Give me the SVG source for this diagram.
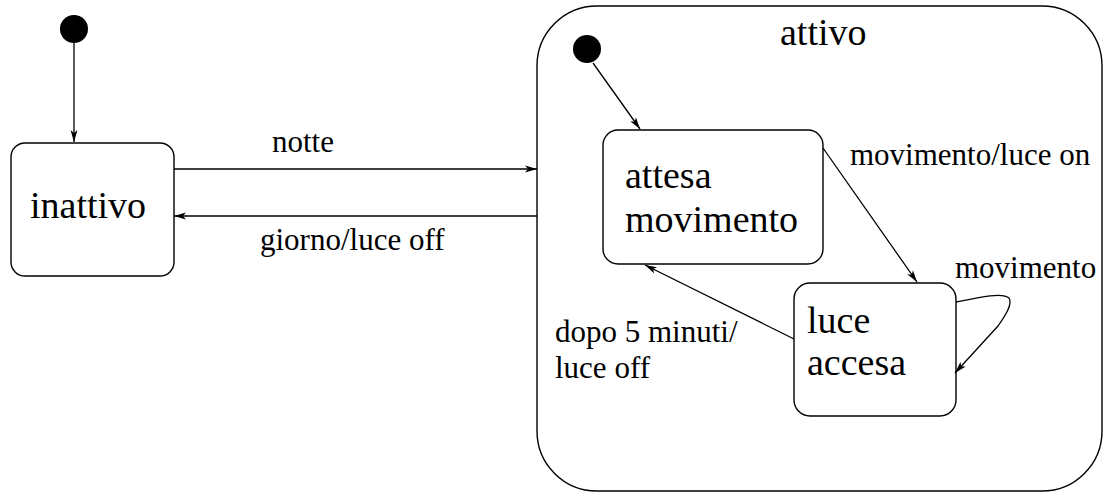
<svg xmlns="http://www.w3.org/2000/svg" width="1104" height="493" viewBox="0 0 1104 493">
<style>
.box{fill:#fff;stroke:#000;stroke-width:1.4}
.dot{fill:#000}
.ln{fill:none;stroke:#000;stroke-width:1.3;marker-end:url(#ah)}
.nl{font-size:38px;fill:#000}
.tl{font-size:31px;fill:#000}
</style>
<defs>
<marker id="ah" viewBox="0 0 12 8" refX="12" refY="4" markerWidth="12" markerHeight="8" markerUnits="userSpaceOnUse" orient="auto">
<path d="M0,0.5 L12,4 L0,7.5 L3,4 Z" fill="#000"/>
</marker>
</defs>
<g font-family="Liberation Serif, Times New Roman, serif">
<g id="attivo">
<rect class="box" x="537" y="6" width="565" height="485" rx="60" ry="60"/>
<text class="nl" x="780" y="45">attivo</text>
</g>
<g id="init1"><circle class="dot" cx="74" cy="29" r="14"/></g>
<g id="inattivo">
<rect class="box" x="11" y="143" width="163" height="133" rx="14" ry="14"/>
<text class="nl" x="30" y="218">inattivo</text>
</g>
<g id="init2"><circle class="dot" cx="587" cy="49" r="14"/></g>
<g id="attesa">
<rect class="box" x="603" y="130" width="220" height="134" rx="15" ry="15"/>
<text class="nl" x="625" y="188">attesa</text>
<text class="nl" x="625" y="232">movimento</text>
</g>
<g id="luce">
<rect class="box" x="794" y="283" width="162" height="133" rx="16" ry="16"/>
<text class="nl" x="807" y="333">luce</text>
<text class="nl" x="807" y="375">accesa</text>
</g>
<g id="connectors">
<path class="ln" d="M74,43 L74,142"/>
<path class="ln" d="M174,169 L537,169"/>
<path class="ln" d="M537,216 L174,216"/>
<path class="ln" d="M593,63 L640,129"/>
<path class="ln" d="M823,148 L917,282"/>
<path class="ln" d="M794,339 L645,265"/>
<path class="ln" d="M956,302 C980,297 1003,292 1009,298 C1013,304 1005,316 998,326 L955,373"/>
<text class="tl" x="272" y="152">notte</text>
<text class="tl" x="260" y="250">giorno/luce off</text>
<text class="tl" x="850" y="165">movimento/luce on</text>
<text class="tl" x="955" y="278">movimento</text>
<text class="tl" x="555" y="342">dopo 5 minuti/</text>
<text class="tl" x="555" y="378">luce off</text>
</g>
</g>
</svg>
